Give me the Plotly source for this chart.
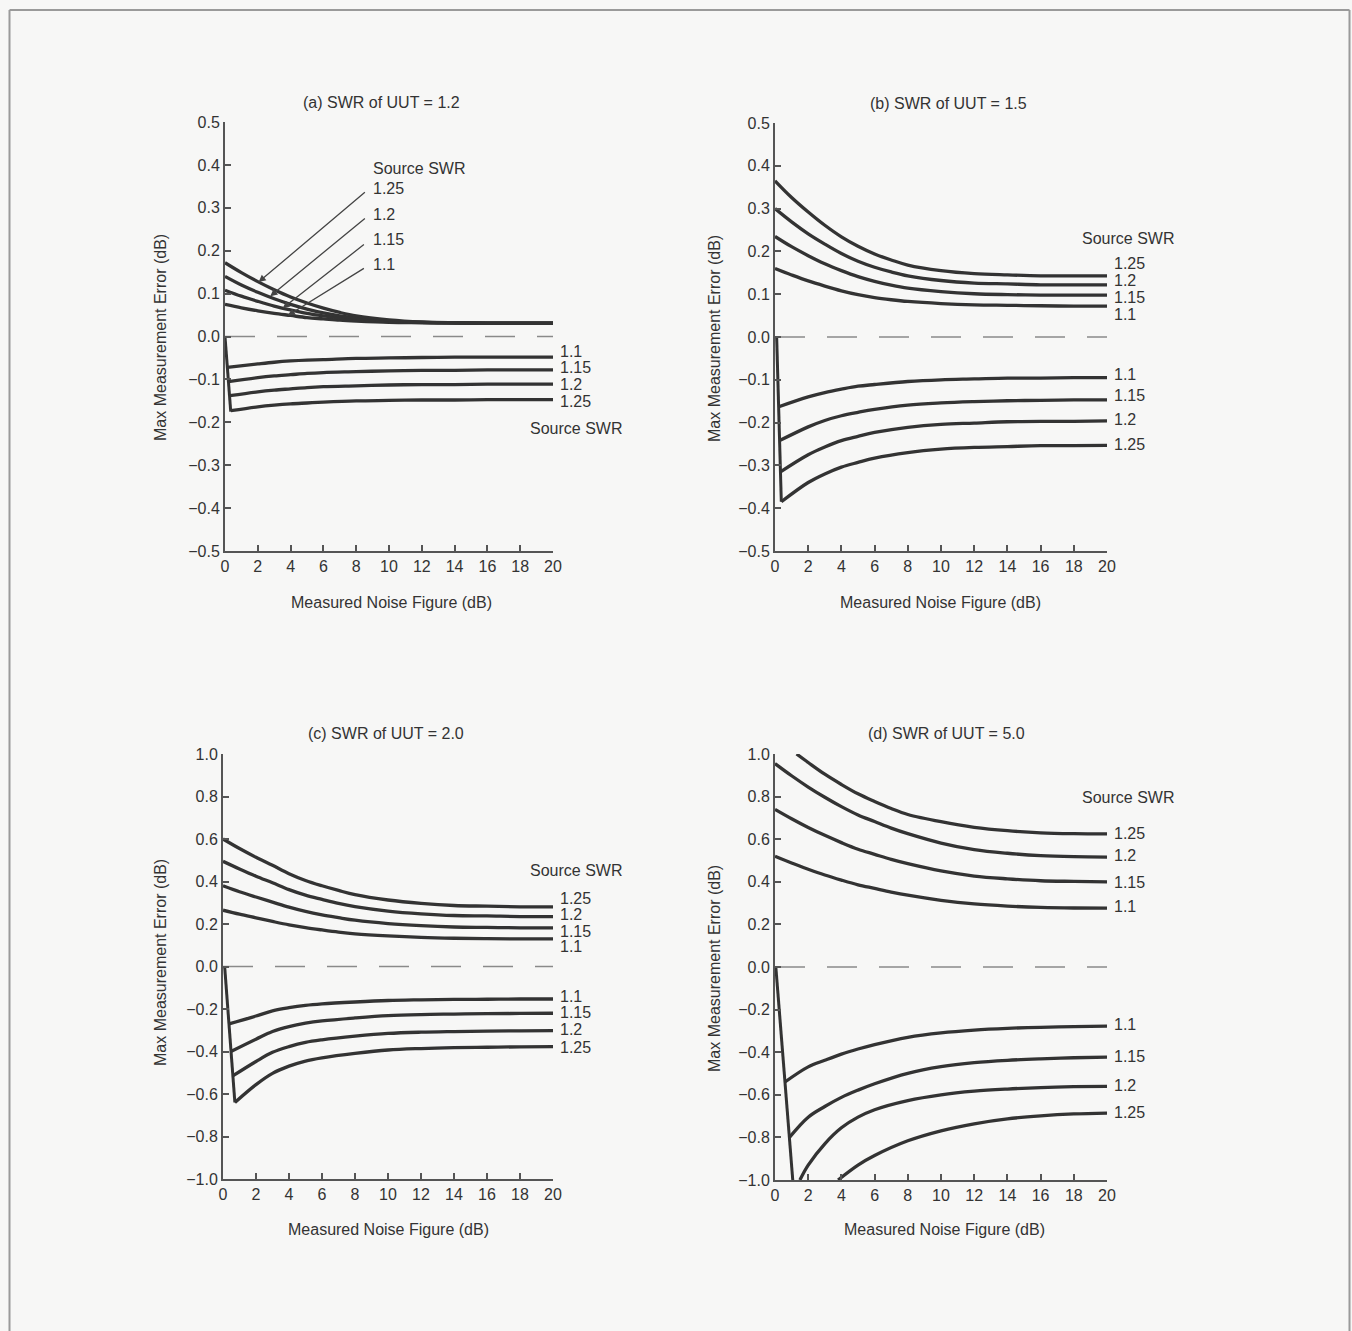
import plotly.graph_objects as go

# Page is 1352 x 1331; the figure fills it (body margin removed, no margin auto-expansion).
W, H = 1352, 1331

# ---------------- data ----------------
SOURCE_SWR = ["1.1", "1.15", "1.2", "1.25"]
NF_UP = [0, 1, 2, 3, 4, 5, 6, 7, 8, 10, 12, 14, 16, 18, 20]
NF_LO = [2, 3, 4, 5, 6, 8, 10, 12, 14, 16, 18, 20]
ZERO_X = [0, 20]

# (a) SWR of UUT = 1.2  (order: 1.1, 1.15, 1.2, 1.25)
A_UPPER = [
    [0.075, 0.067, 0.060, 0.054, 0.049, 0.044, 0.041, 0.038, 0.036, 0.033, 0.032, 0.031, 0.031, 0.031, 0.031],
    [0.108, 0.094, 0.082, 0.071, 0.062, 0.054, 0.048, 0.043, 0.039, 0.035, 0.033, 0.032, 0.031, 0.031, 0.031],
    [0.140, 0.120, 0.103, 0.088, 0.075, 0.064, 0.055, 0.048, 0.043, 0.036, 0.033, 0.032, 0.031, 0.031, 0.031],
    [0.172, 0.149, 0.128, 0.109, 0.092, 0.078, 0.066, 0.056, 0.048, 0.039, 0.034, 0.032, 0.031, 0.031, 0.031],
]
A_LO_START_X = [0.14, 0.21, 0.28, 0.35]
A_LO_START_Y = [-0.072, -0.105, -0.138, -0.173]
A_LOWER = [
    [-0.064, -0.060, -0.057, -0.055, -0.054, -0.051, -0.050, -0.049, -0.048, -0.048, -0.048, -0.048],
    [-0.096, -0.092, -0.089, -0.086, -0.084, -0.082, -0.080, -0.079, -0.079, -0.078, -0.078, -0.078],
    [-0.129, -0.125, -0.122, -0.119, -0.117, -0.115, -0.113, -0.112, -0.112, -0.111, -0.111, -0.111],
    [-0.164, -0.160, -0.157, -0.155, -0.153, -0.150, -0.149, -0.148, -0.148, -0.147, -0.147, -0.147],
]
A_DROP_X = [0.0, 0.35]
A_DROP_Y = [0.0, -0.175]

# (b) SWR of UUT = 1.5
B_UPPER = [
    [0.160, 0.145, 0.131, 0.119, 0.108, 0.099, 0.092, 0.087, 0.083, 0.078, 0.075, 0.074, 0.073, 0.072, 0.072],
    [0.235, 0.211, 0.190, 0.171, 0.155, 0.141, 0.130, 0.121, 0.114, 0.106, 0.101, 0.099, 0.098, 0.098, 0.098],
    [0.300, 0.269, 0.241, 0.217, 0.195, 0.177, 0.163, 0.152, 0.143, 0.132, 0.126, 0.124, 0.122, 0.122, 0.122],
    [0.365, 0.326, 0.292, 0.261, 0.234, 0.212, 0.194, 0.180, 0.168, 0.155, 0.148, 0.145, 0.143, 0.143, 0.143],
]
B_LO_START_X = [0.23, 0.28, 0.33, 0.38]
B_LO_START_Y = [-0.163, -0.242, -0.315, -0.385]
B_LOWER = [
    [-0.140, -0.130, -0.122, -0.115, -0.111, -0.104, -0.100, -0.098, -0.096, -0.096, -0.095, -0.095],
    [-0.210, -0.195, -0.184, -0.176, -0.169, -0.159, -0.154, -0.151, -0.149, -0.148, -0.147, -0.147],
    [-0.275, -0.257, -0.242, -0.232, -0.223, -0.211, -0.204, -0.201, -0.198, -0.197, -0.197, -0.196],
    [-0.340, -0.320, -0.304, -0.293, -0.283, -0.270, -0.262, -0.258, -0.256, -0.254, -0.254, -0.253],
]
B_DROP_X = [0.10, 0.38]
B_DROP_Y = [0.0, -0.385]

# (c) SWR of UUT = 2.0
C_UPPER = [
    [0.265, 0.246, 0.229, 0.212, 0.196, 0.183, 0.172, 0.162, 0.154, 0.144, 0.137, 0.133, 0.131, 0.130, 0.130],
    [0.380, 0.352, 0.327, 0.303, 0.279, 0.259, 0.243, 0.230, 0.218, 0.202, 0.192, 0.186, 0.184, 0.182, 0.182],
    [0.495, 0.459, 0.425, 0.394, 0.362, 0.336, 0.316, 0.297, 0.282, 0.261, 0.248, 0.240, 0.238, 0.235, 0.235],
    [0.600, 0.555, 0.514, 0.476, 0.437, 0.405, 0.380, 0.358, 0.338, 0.313, 0.297, 0.287, 0.284, 0.281, 0.281],
]
C_LO_START_X = [0.36, 0.48, 0.59, 0.72]
C_LO_START_Y = [-0.270, -0.400, -0.515, -0.640]
C_LOWER = [
    [-0.233, -0.209, -0.194, -0.183, -0.176, -0.167, -0.160, -0.157, -0.155, -0.154, -0.153, -0.153],
    [-0.342, -0.306, -0.283, -0.267, -0.256, -0.242, -0.231, -0.226, -0.224, -0.222, -0.221, -0.220],
    [-0.447, -0.404, -0.377, -0.357, -0.345, -0.328, -0.315, -0.309, -0.306, -0.304, -0.303, -0.302],
    [-0.556, -0.503, -0.469, -0.445, -0.430, -0.409, -0.393, -0.386, -0.382, -0.380, -0.378, -0.377],
]
C_DROP_X = [0.10, 0.72]
C_DROP_Y = [0.0, -0.640]

# (d) SWR of UUT = 5.0
D_UP_125_X = [1.3, 2, 3, 4, 5, 6, 7, 8, 10, 12, 14, 16, 18, 20]
D_UPPER = [
    [0.520, 0.488, 0.459, 0.432, 0.408, 0.386, 0.369, 0.352, 0.337, 0.313, 0.296, 0.286, 0.280, 0.277, 0.276],
    [0.740, 0.696, 0.655, 0.618, 0.584, 0.553, 0.529, 0.505, 0.485, 0.451, 0.427, 0.414, 0.405, 0.402, 0.400],
    [0.955, 0.898, 0.845, 0.797, 0.753, 0.714, 0.683, 0.652, 0.626, 0.582, 0.551, 0.534, 0.523, 0.518, 0.516],
    [1.000, 0.960, 0.905, 0.857, 0.813, 0.777, 0.744, 0.716, 0.682, 0.656, 0.640, 0.630, 0.626, 0.625],
]
D_LO_START_X = [0.60, 0.87, 1.5]
D_LO_START_Y = [-0.540, -0.800, -1.000]
D_LOWER = [
    [-0.469, -0.438, -0.409, -0.385, -0.364, -0.330, -0.309, -0.296, -0.288, -0.283, -0.280, -0.278],
    [-0.705, -0.655, -0.612, -0.578, -0.548, -0.499, -0.468, -0.449, -0.438, -0.431, -0.426, -0.423],
    [-0.930, -0.830, -0.755, -0.705, -0.670, -0.627, -0.600, -0.583, -0.573, -0.566, -0.562, -0.560],
]
D_LO_125_X = [3.8, 5, 6, 8, 10, 12, 14, 16, 18, 20]
D_LO_125 = [-1.000, -0.930, -0.885, -0.816, -0.769, -0.736, -0.713, -0.699, -0.690, -0.686]
D_DROP_X = [0.05, 1.07]
D_DROP_Y = [0.0, -1.0]

# ---------------- styling ----------------
BG = "#f7f7f6"
INK = "#333333"
FONT = "Liberation Sans, Arial, Helvetica, sans-serif"
FS = 16


def px(x):
    """page pixel x -> paper fraction"""
    return x / W


def py(y):
    """page pixel y (from top) -> paper fraction"""
    return 1 - y / H


def lows(starts_x, starts_y, vals):
    xs = [[sx] + NF_LO for sx in starts_x]
    ys = [[sy] + v for sy, v in zip(starts_y, vals)]
    return xs, ys


a_lox, a_lo = lows(A_LO_START_X, A_LO_START_Y, A_LOWER)
b_lox, b_lo = lows(B_LO_START_X, B_LO_START_Y, B_LOWER)
c_lox, c_lo = lows(C_LO_START_X, C_LO_START_Y, C_LOWER)
d_lox, d_lo = lows(D_LO_START_X, D_LO_START_Y, D_LOWER)
d_lox.append(D_LO_125_X)
d_lo.append(D_LO_125)

panels = [
    dict(title="(a) SWR of UUT = 1.2", dom_x=(225, 553), dom_y=(122, 551), yr=(-0.5, 0.5), dt=0.1,
         upx=[NF_UP] * 4, up=A_UPPER, lox=a_lox, lo=a_lo, drop=(A_DROP_X, A_DROP_Y),
         tpos=(381, 103), xt=(391, 602), yt=(160, 338),
         up_lab=None, lo_lab=[-0.034, -0.072, -0.111, -0.151], src_lo=(18.5, -0.214), src_up=None),
    dict(title="(b) SWR of UUT = 1.5", dom_x=(775, 1107), dom_y=(123, 551), yr=(-0.5, 0.5), dt=0.1,
         upx=[NF_UP] * 4, up=B_UPPER, lox=b_lox, lo=b_lo, drop=(B_DROP_X, B_DROP_Y),
         tpos=(948, 104), xt=(940, 602), yt=(715, 339),
         up_lab=[0.052, 0.092, 0.131, 0.171], lo_lab=[-0.0875, -0.1375, -0.193, -0.25],
         src_up=(18.4, 0.231), src_lo=None),
    dict(title="(c) SWR of UUT = 2.0", dom_x=(223, 553), dom_y=(754, 1179), yr=(-1.0, 1.0), dt=0.2,
         upx=[NF_UP] * 4, up=C_UPPER, lox=c_lox, lo=c_lo, drop=(C_DROP_X, C_DROP_Y),
         tpos=(386, 733), xt=(388, 1229), yt=(160, 963),
         up_lab=[0.092, 0.167, 0.243, 0.3185], lo_lab=[-0.142, -0.217, -0.298, -0.381],
         src_up=(18.5, 0.452), src_lo=None),
    dict(title="(d) SWR of UUT = 5.0", dom_x=(775, 1107), dom_y=(754, 1180), yr=(-1.0, 1.0), dt=0.2,
         upx=[NF_UP, NF_UP, NF_UP, D_UP_125_X], up=D_UPPER, lox=d_lox, lo=d_lo, drop=(D_DROP_X, D_DROP_Y),
         tpos=(946, 733), xt=(944, 1229), yt=(715, 969),
         up_lab=[0.284, 0.397, 0.522, 0.627], lo_lab=[-0.272, -0.419, -0.556, -0.684],
         src_up=(18.35, 0.795), src_lo=None),
]

fig = go.Figure()
annotations = []
layout_axes = {}
tfont = dict(family=FONT, size=FS, color=INK)

for i, p in enumerate(panels):
    n = "" if i == 0 else str(i + 1)
    xr, yr_ = "x" + n, "y" + n
    line = dict(color=INK, width=3.3, shape="spline", smoothing=1.0)
    fig.add_trace(go.Scatter(x=ZERO_X, y=[0, 0], mode="lines", xaxis=xr, yaxis=yr_,
                             line=dict(color="#8a8a8a", width=1.6, dash="30px,22px"),
                             showlegend=False, hoverinfo="skip"))
    for k, swr in enumerate(SOURCE_SWR):
        fig.add_trace(go.Scatter(x=p["upx"][k], y=p["up"][k], mode="lines", xaxis=xr, yaxis=yr_,
                                 line=line, name=swr, showlegend=False))
        fig.add_trace(go.Scatter(x=p["lox"][k], y=p["lo"][k], mode="lines", xaxis=xr, yaxis=yr_,
                                 line=line, name=swr, showlegend=False))
    fig.add_trace(go.Scatter(x=p["drop"][0], y=p["drop"][1], mode="lines", xaxis=xr, yaxis=yr_,
                             line=dict(color=INK, width=3), showlegend=False, hoverinfo="skip"))

    x0p, x1p = px(p["dom_x"][0]), px(p["dom_x"][1])
    layout_axes["xaxis" + n] = dict(
        domain=[x0p, x1p], range=[0, 20], anchor=yr_,
        tickmode="array", tickvals=list(range(0, 21, 2)), ticks="inside", ticklen=6, tickwidth=1.5,
        tickcolor="#555", showline=True, linecolor="#555", linewidth=2, showgrid=False,
        zeroline=False, tickfont=tfont, fixedrange=True, automargin=False)
    layout_axes["yaxis" + n] = dict(
        domain=[py(p["dom_y"][1]), py(p["dom_y"][0])], range=list(p["yr"]), anchor=xr,
        dtick=p["dt"], tick0=0, tickformat=".1f", ticks="inside", ticklen=6, tickwidth=1.5,
        tickcolor="#555", showline=True, linecolor="#555", linewidth=2, showgrid=False,
        zeroline=False, tickfont=tfont, fixedrange=True, automargin=False)

    def xpaper(xv, x0p=x0p, x1p=x1p):
        return x0p + (x1p - x0p) * xv / 20.0

    annotations.append(dict(text=p["title"], x=px(p["tpos"][0]), y=py(p["tpos"][1]), xref="paper",
                            yref="paper", showarrow=False, font=tfont, xanchor="center", yanchor="middle"))
    annotations.append(dict(text="Measured Noise Figure (dB)", x=px(p["xt"][0]), y=py(p["xt"][1]),
                            xref="paper", yref="paper", showarrow=False, font=tfont,
                            xanchor="center", yanchor="middle"))
    annotations.append(dict(text="Max Measurement Error (dB)", x=px(p["yt"][0]), y=py(p["yt"][1]),
                            xref="paper", yref="paper", showarrow=False, font=tfont, textangle=-90,
                            xanchor="center", yanchor="middle"))
    if p["up_lab"]:
        for swr, ly in zip(SOURCE_SWR, p["up_lab"]):
            annotations.append(dict(text=swr, x=xpaper(20.3), y=ly, xref="paper", yref=yr_,
                                    showarrow=False, font=tfont, xanchor="left", yanchor="middle"))
    for swr, ly in zip(SOURCE_SWR, p["lo_lab"]):
        annotations.append(dict(text=swr, x=xpaper(20.3), y=ly, xref="paper", yref=yr_,
                                showarrow=False, font=tfont, xanchor="left", yanchor="middle"))
    for key in ("src_up", "src_lo"):
        if p[key]:
            annotations.append(dict(text="Source SWR", x=xpaper(p[key][0]), y=p[key][1], xref="paper",
                                    yref=yr_, showarrow=False, font=tfont, xanchor="left",
                                    yanchor="middle"))

# panel (a) leader labels with arrows
A_LEAD_TIP = [(3.83, 0.049), (3.52, 0.066), (2.76, 0.094), (2.05, 0.127)]
A_LEAD_TAIL = [(8.56, 0.161), (8.56, 0.217), (8.62, 0.278), (8.62, 0.339)]
A_LEAD_LAB = [0.168, 0.227, 0.285, 0.344]
for swr, tip, tail, ly in zip(SOURCE_SWR, A_LEAD_TIP, A_LEAD_TAIL, A_LEAD_LAB):
    annotations.append(dict(text="", x=tip[0], y=tip[1], ax=tail[0], ay=tail[1], xref="x", yref="y",
                            axref="x", ayref="y", showarrow=True, arrowhead=2, arrowsize=1.1,
                            arrowwidth=1.3, arrowcolor="#444", standoff=0, startstandoff=0))
    annotations.append(dict(text=swr, x=8.9, y=ly, xref="x", yref="y", showarrow=False,
                            font=tfont, xanchor="left", yanchor="middle"))
annotations.append(dict(text="Source SWR", x=8.9, y=0.391, xref="x", yref="y", showarrow=False,
                        font=tfont, xanchor="left", yanchor="middle"))

# page frame (top, left, right rules of the scanned page)
shapes = [
    dict(type="line", xref="paper", yref="paper", x0=px(9.5), x1=px(9.5), y0=0, y1=py(10),
         line=dict(color="#9a9a9a", width=2)),
    dict(type="line", xref="paper", yref="paper", x0=px(9.5), x1=px(1349.5), y0=py(10), y1=py(10),
         line=dict(color="#9a9a9a", width=2)),
    dict(type="line", xref="paper", yref="paper", x0=px(1349.5), x1=px(1349.5), y0=0, y1=py(10),
         line=dict(color="#9a9a9a", width=2)),
]

fig.update_layout(
    width=W, height=H, margin=dict(l=0, r=0, t=0, b=0, pad=0, autoexpand=False),
    paper_bgcolor=BG, plot_bgcolor=BG, showlegend=False,
    font=tfont, annotations=annotations, shapes=shapes, **layout_axes)

fig.write_html(
    "out.html",
    config={"displayModeBar": False},
    post_script="document.body.style.margin='0';document.body.style.overflow='hidden';",
)
